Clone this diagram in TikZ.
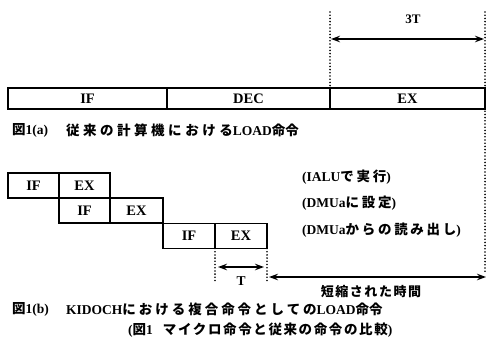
\documentclass[tikz,border=0pt]{standalone}
\usepackage{fontspec}
\setmainfont{Liberation Serif}
\newfontfamily\jp{Noto Sans CJK JP}
\usetikzlibrary{arrows.meta}
\tikzset{
  seg/.style={draw, line width=1.3pt, inner sep=0pt, outer sep=0pt,
    font=\fontsize{14.5}{14.5}\selectfont\bfseries},
  topseg/.style={seg, minimum height=21pt},
  lowseg/.style={seg, minimum height=25pt},
  guide/.style={line width=1.8pt, dash pattern=on 0pt off 3.2pt, line cap=round},
  dim/.style={line width=1.3pt, {Stealth[length=9pt,width=6.5pt]}-{Stealth[length=9pt,width=6.5pt]}},
  lbl/.style={inner sep=0pt, anchor=west, font=\fontsize{13.5}{13}\selectfont\bfseries},
  captxt/.style={inner sep=0pt, anchor=west, font=\fontsize{13.5}{14}\selectfont\bfseries},
}
\begin{document}
\begin{tikzpicture}[x=1pt,y=-1pt]
\useasboundingbox (0,0) rectangle (489,356);
% top bar
\node[topseg, minimum width=159pt] (aIF) at (87.5,98.5) {IF};
\node[topseg, minimum width=163pt] (aDEC) at (248.5,98.5) {DEC};
\node[topseg, minimum width=155pt] (aEX) at (407.5,98.5) {EX};
% guides top
\coordinate (g1) at (330,12);
\coordinate (g2) at (485,12);
\coordinate (g3) at (485,274);
\draw[guide] (g1) -- (aDEC.north east);
\draw[guide] (g2) -- (g3);
% 3T arrow
\coordinate (a1) at (331,39);
\coordinate (a2) at (484,39);
\draw[dim] (a1) -- (a2);
\node[inner sep=0pt, font=\fontsize{13}{13}\selectfont\bfseries] (l3T) at (413,19) {3T};
% caption a
\node[captxt] (capa1) at (12,130) {{\jp 図}1(a)};
\node[captxt] (capa2) at (66,130) {{\jp\addfontfeature{LetterSpace=26} 従来の計算機における}LOAD{\jp 命令}};
% lower rows
\node[lowseg, minimum width=51pt] (r1IF) at (33.5,185.5) {IF};
\node[lowseg, minimum width=51pt] (r1EX) at (84.5,185.5) {EX};
\node[lowseg, minimum width=51pt] (r2IF) at (84.5,210.5) {IF};
\node[lowseg, minimum width=53pt] (r2EX) at (136.5,210.5) {EX};
\node[lowseg, minimum width=52pt] (r3IF) at (189,236) {IF};
\node[lowseg, minimum width=52pt] (r3EX) at (241,236) {EX};
% side labels
\node[lbl] (s1) at (302,177) {(IALU{\jp\addfontfeature{LetterSpace=20} で実行})};
\node[lbl] (s2) at (302,203) {(DMUa{\jp\addfontfeature{LetterSpace=20} に設定})};
\node[lbl] (s3) at (302,230) {(DMUa{\jp\addfontfeature{LetterSpace=20} からの読み出し})};
% lower guides
\coordinate (d1) at (215,281);
\coordinate (d2) at (267,281);
\draw[guide] (r3IF.south east) -- (d1);
\draw[guide] (r3EX.south east) -- (d2);
% T arrow
\coordinate (t1) at (218,267);
\coordinate (t2) at (264,267);
\draw[dim] (t1) -- (t2);
\node[inner sep=0pt, font=\fontsize{13.5}{13}\selectfont\bfseries] (lT) at (241,281) {T};
% long arrow
\coordinate (b1) at (269,277);
\coordinate (b2) at (486,277);
\draw[dim] (b1) -- (b2);
\node[inner sep=0pt, font=\fontsize{13}{13}\selectfont\bfseries\jp\addfontfeature{LetterSpace=12}] (lshort) at (371,292) {短縮された時間};
% caption b
\node[captxt] (capb1) at (12,309) {{\jp 図}1(b)};
\node[captxt] (capb2) at (66,309) {KIDOCH{\jp\addfontfeature{LetterSpace=22} における複合命令としての}LOAD{\jp 命令}};
% bottom caption
\node[captxt] (capc) at (128,330) {({\jp 図}1\hspace{10pt}{\jp\addfontfeature{LetterSpace=12} マイクロ命令と従来の命令の比較})};
\end{tikzpicture}
\end{document}
